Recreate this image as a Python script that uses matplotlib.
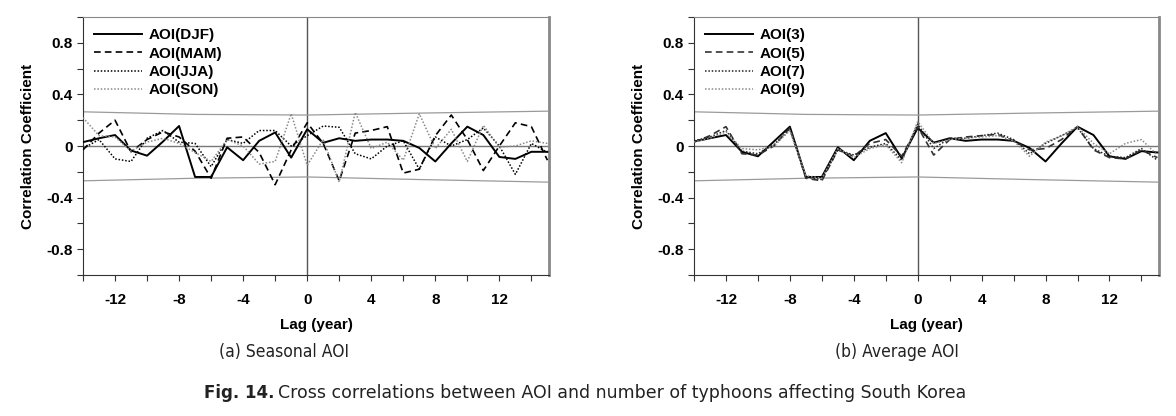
import matplotlib
matplotlib.use('Agg')
import matplotlib.pyplot as plt
from matplotlib.ticker import FixedLocator, FuncFormatter

plt.rcParams['font.family'] = ['Liberation Sans', 'DejaVu Sans']
plt.rcParams['axes.unicode_minus'] = False

# 시차 (년)
lags = list(range(-14, 16))

# (a) 계절별 AOI 상관계수
aoi_djf = [0.03, 0.06, 0.085, -0.035, -0.075, 0.035, 0.155, -0.24, -0.24, -0.01,
           -0.11, 0.04, 0.105, -0.09, 0.13, 0.025, 0.06, 0.04, 0.05, 0.05,
           0.04, -0.015, -0.12, 0.02, 0.15, 0.085, -0.085, -0.10, -0.045, -0.045]
aoi_mam = [-0.03, 0.10, 0.20, -0.045, 0.05, 0.11, 0.07, -0.04, -0.25, 0.06,
           0.07, -0.05, -0.30, -0.03, 0.18, 0.02, -0.27, 0.10, 0.12, 0.15,
           -0.21, -0.18, 0.08, 0.24, 0.05, -0.19, 0.0, 0.18, 0.15, -0.11]
aoi_jja = [-0.02, 0.05, -0.10, -0.12, 0.06, 0.12, 0.03, 0.02, -0.16, 0.05,
           0.02, 0.12, 0.12, 0.0, 0.08, 0.155, 0.145, -0.06, -0.10, 0.0,
           0.04, -0.18, 0.07, 0.0, 0.05, 0.14, 0.0, -0.22, 0.02, -0.05]
aoi_son = [0.22, 0.08, 0.07, -0.04, 0.03, 0.06, 0.02, -0.05, -0.12, 0.05,
           0.0, -0.14, -0.12, 0.25, -0.15, 0.05, -0.28, 0.26, -0.02, 0.03,
           -0.11, 0.25, -0.02, 0.13, -0.12, 0.16, -0.01, 0.0, 0.04, 0.02]

# (b) 평균 AOI 상관계수
aoi_3 = [0.035, 0.06, 0.085, -0.045, -0.08, 0.035, 0.15, -0.24, -0.24, -0.01,
         -0.11, 0.04, 0.10, -0.095, 0.14, 0.026, 0.06, 0.04, 0.05, 0.05,
         0.04, -0.015, -0.12, 0.02, 0.15, 0.085, -0.08, -0.10, -0.04, -0.05]
aoi_5 = [0.03, 0.08, 0.15, -0.06, -0.07, 0.0, 0.14, -0.25, -0.27, -0.03,
         -0.08, 0.02, 0.05, -0.08, 0.15, -0.07, 0.05, 0.07, 0.08, 0.09,
         0.04, -0.03, -0.02, 0.05, 0.15, -0.03, -0.09, -0.10, -0.03, -0.09]
aoi_7 = [0.04, 0.07, 0.12, -0.04, -0.06, 0.01, 0.13, -0.24, -0.26, -0.03,
         -0.07, -0.01, 0.02, -0.11, 0.17, -0.02, 0.06, 0.06, 0.08, 0.10,
         0.05, -0.06, 0.02, 0.08, 0.14, -0.02, -0.08, -0.09, -0.02, -0.11]
aoi_9 = [0.03, 0.06, 0.11, -0.02, -0.03, 0.0, 0.12, -0.23, -0.25, -0.02,
         -0.09, -0.02, 0.01, -0.13, 0.19, 0.02, 0.05, 0.06, 0.07, 0.08,
         0.04, -0.08, 0.03, 0.08, 0.15, 0.02, -0.06, 0.02, 0.05, -0.07]

# 유의수준 선
sig_lags = [-14, -7, 0, 7, 15]
sig_upper = [0.265, 0.245, 0.24, 0.255, 0.27]
sig_lower = [-0.27, -0.25, -0.24, -0.26, -0.28]

fig = plt.figure(figsize=(11.76, 4.16), dpi=100)
ax1 = fig.add_axes([83 / 1176, 1 - 275 / 416, 466 / 1176, 258 / 416])
ax2 = fig.add_axes([694 / 1176, 1 - 275 / 416, 465 / 1176, 258 / 416])

styles_a = [
    ('AOI(DJF)', aoi_djf, dict(color='black', lw=1.4, ls='-')),
    ('AOI(MAM)', aoi_mam, dict(color='black', lw=1.2, ls=(0, (4, 2.5)))),
    ('AOI(JJA)', aoi_jja, dict(color='black', lw=1.1, ls=(0, (1, 1.2)))),
    ('AOI(SON)', aoi_son, dict(color='#8a8a8a', lw=1.1, ls=(0, (1, 1.2)))),
]
styles_b = [
    ('AOI(3)', aoi_3, dict(color='black', lw=1.4, ls='-')),
    ('AOI(5)', aoi_5, dict(color='#333333', lw=1.2, ls=(0, (4, 2.5)))),
    ('AOI(7)', aoi_7, dict(color='#222222', lw=1.1, ls=(0, (1, 1.2)))),
    ('AOI(9)', aoi_9, dict(color='#8a8a8a', lw=1.1, ls=(0, (1, 1.2)))),
]


def draw_panel(ax, series):
    ax.axhline(0, color='#777777', lw=1.0, zorder=1)
    ax.axvline(0, color='#555555', lw=1.0, zorder=1)
    ax.plot(sig_lags, sig_upper, color='#9a9a9a', lw=0.9, zorder=1)
    ax.plot(sig_lags, sig_lower, color='#9a9a9a', lw=0.9, zorder=1)
    for label, vals, st in series:
        ax.plot(lags, vals, label=label, zorder=3, **st)

    ax.set_xlim(-14, 15.1)
    ax.set_ylim(-1, 1)
    ax.xaxis.set_major_locator(FixedLocator([-12, -8, -4, 0, 4, 8, 12]))
    ax.xaxis.set_minor_locator(FixedLocator([-14, -10, -6, -2, 2, 6, 10, 14]))
    ax.yaxis.set_major_locator(FixedLocator([-0.8, -0.4, 0, 0.4, 0.8]))
    ax.yaxis.set_minor_locator(FixedLocator([-1, -0.6, -0.2, 0.2, 0.6, 1]))
    ax.yaxis.set_major_formatter(FuncFormatter(lambda v, p: '0' if abs(v) < 1e-9 else f'{v:.1f}'))
    ax.tick_params(which='both', direction='out', length=4, width=0.8, colors='#333333')
    ax.tick_params(which='major', labelsize=11, labelcolor='black')
    ax.tick_params(axis='x', which='major', pad=9)
    for lab in ax.get_xticklabels() + ax.get_yticklabels():
        lab.set_fontweight('bold')

    ax.spines['left'].set_color('#333333')
    ax.spines['bottom'].set_color('#333333')
    ax.spines['top'].set_color('#888888')
    ax.spines['right'].set_color('#888888')
    ax.spines['right'].set_linewidth(2.0)

    ax.set_xlabel('Lag (year)', fontsize=11, fontweight='bold', labelpad=8)
    ax.set_ylabel('Correlation Coefficient', fontsize=11, fontweight='bold', labelpad=8)

    leg = ax.legend(loc='upper left', frameon=False, handlelength=3.1, fontsize=11,
                    labelspacing=0.28, borderaxespad=0.35, handletextpad=0.45)
    for t in leg.get_texts():
        t.set_fontweight('bold')


draw_panel(ax1, styles_a)
draw_panel(ax2, styles_b)

fig.text(284 / 1176, 1 - 352 / 416, '(a) Seasonal AOI', ha='center', va='center',
         fontsize=12.5, family='DejaVu Sans', fontstretch='condensed', color='#222222')
fig.text(897 / 1176, 1 - 352 / 416, '(b) Average AOI', ha='center', va='center',
         fontsize=12.5, family='DejaVu Sans', fontstretch='condensed', color='#222222')

fig.text(274 / 1176, 1 - 393 / 416, 'Fig. 14.', ha='right', va='center',
         fontsize=12, fontweight='bold', family='DejaVu Sans', color='#222222')
fig.text(278 / 1176, 1 - 393 / 416,
         'Cross correlations between AOI and number of typhoons affecting South Korea',
         ha='left', va='center', fontsize=12.5, family='DejaVu Sans', color='#222222')

fig.savefig('out.png', dpi=100)
